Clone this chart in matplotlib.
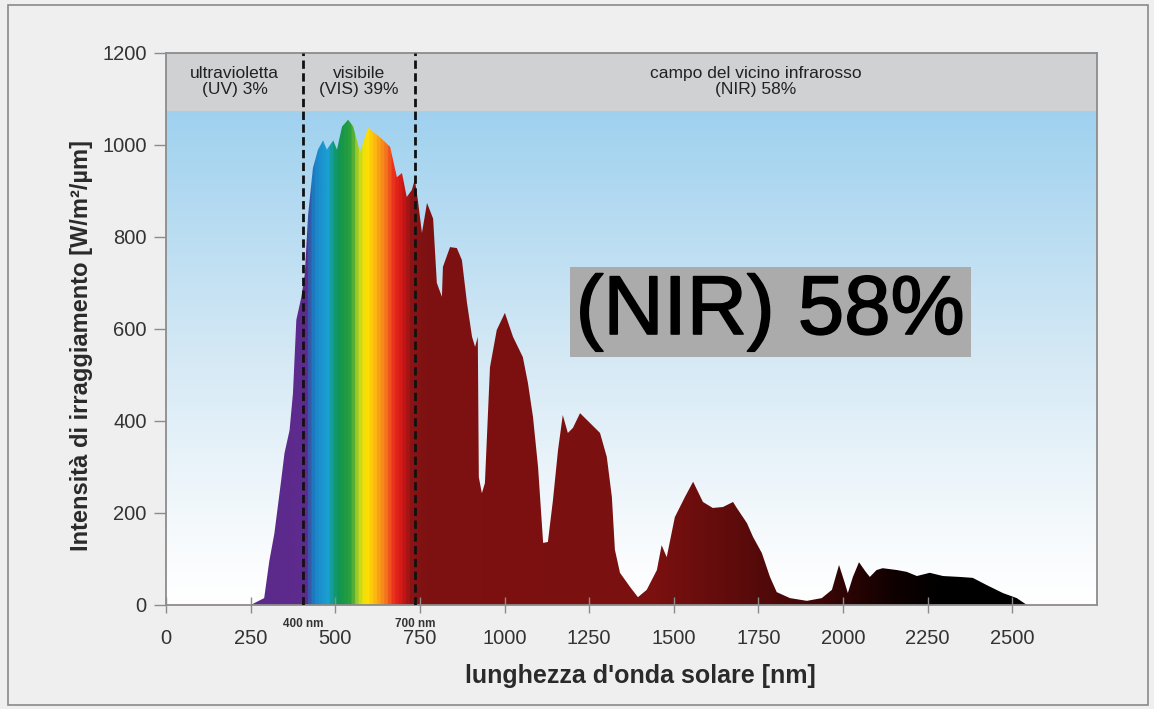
import numpy as np
import matplotlib
matplotlib.use("Agg")
import matplotlib.pyplot as plt
import matplotlib.patheffects as pe
from matplotlib.colors import LinearSegmentedColormap
from matplotlib.patches import Rectangle

# ---------------- data ----------------
wavelength = [250, 290, 305, 320, 340, 350, 365, 375, 385, 400, 410, 420, 434, 449, 464, 475,
              494, 505, 520, 538, 553, 573, 597, 632, 662, 682, 697, 711, 726, 735, 744, 756,
              771, 789, 800, 815, 818, 839, 859, 874, 889, 904, 913, 921, 924, 933, 942, 957,
              977, 1001, 1025, 1054, 1069, 1084, 1099, 1114, 1128, 1143, 1158, 1172, 1187, 1202,
              1223, 1252, 1282, 1302, 1317, 1326, 1341, 1370, 1394, 1420, 1450, 1464, 1479, 1503,
              1533, 1557, 1586, 1615, 1645, 1675, 1686, 1716, 1734, 1760, 1784, 1804, 1843, 1893,
              1937, 1967, 1988, 2005, 2014, 2029, 2047, 2067, 2079, 2099, 2117, 2159, 2188, 2218,
              2256, 2295, 2345, 2383, 2425, 2472, 2513, 2543]
irradiance = [0, 15, 95, 155, 270, 330, 380, 460, 620, 670, 720, 850, 950, 990, 1010, 990,
              1010, 990, 1040, 1055, 1040, 985, 1037, 1017, 996, 930, 939, 887, 902, 925, 880, 809,
              874, 840, 700, 670, 735, 778, 776, 750, 657, 583, 561, 583, 278, 243, 265, 517,
              598, 635, 583, 539, 483, 409, 300, 135, 137, 228, 337, 413, 374, 385,
              417, 396, 374, 322, 235, 120, 70, 40, 17, 33, 76, 130, 104, 191,
              235, 268, 224, 211, 213, 224, 211, 178, 148, 113, 61, 28, 15, 9,
              15, 33, 87, 48, 26, 61, 93, 72, 61, 76, 80, 76, 72, 63,
              70, 63, 61, 59, 43, 26, 15, 0]

band_edges = [405, 735]
band_edge_labels = ["400 nm", "700 nm"]
band_titles = ["ultravioletta\n(UV) 3%", "visibile\n(VIS) 39%", "campo del vicino infrarosso\n(NIR) 58%"]
x_ticks = [0, 250, 500, 750, 1000, 1250, 1500, 1750, 2000, 2250, 2500]
y_ticks = [0, 200, 400, 600, 800, 1000, 1200]
XMAX = 2750
YMAX = 1200
HEADER_BOTTOM = 1075

# colour stops of the spectrum (wavelength, colour)
spectrum_stops = [(0, '#5b2a8a'), (250, '#5b2a8a'), (412, '#5e2a8e'), (425, '#2070b8'),
                  (445, '#1a8ccc'), (475, '#1aa0d2'), (492, '#139a7a'), (510, '#11944c'),
                  (545, '#2fa23c'), (565, '#b8d424'), (588, '#ffe600'), (612, '#fcbc12'),
                  (645, '#f57a1e'), (672, '#e82a1c'), (695, '#d21616'), (720, '#8e1414'),
                  (760, '#7e1111'), (1450, '#7a1010'), (1700, '#5c0b0b'), (1950, '#3a0606'),
                  (2150, '#100101'), (2300, '#000000'), (2750, '#000000')]

# ---------------- figure ----------------
plt.rcParams['font.family'] = ['Liberation Sans', 'DejaVu Sans']
fig = plt.figure(figsize=(11.54, 7.09), dpi=100, facecolor='#efefef')
fig.patches.append(Rectangle((8 / 1154, 4 / 709), 1140 / 1154, 700 / 709, transform=fig.transFigure,
                             fill=False, edgecolor='#8a8a8a', linewidth=1.2))
ax = fig.add_axes([166 / 1154, 1 - 605 / 709, (1097 - 166) / 1154, (605 - 53) / 709])
ax.set_xlim(0, XMAX)
ax.set_ylim(0, YMAX)

# sky gradient
sky = LinearSegmentedColormap.from_list('sky', [(0, '#ffffff'), (0.12, '#f8fbfd'),
                                                (0.5, '#d5e9f5'), (1.0, '#9fd1ef')])
grad_v = np.linspace(0, 1, 256).reshape(-1, 1)
ax.imshow(grad_v, extent=[0, XMAX, 0, HEADER_BOTTOM], origin='lower', aspect='auto',
          cmap=sky, zorder=0)
ax.axhspan(HEADER_BOTTOM, YMAX, color='#d0d1d3', zorder=0.5, lw=0)

# spectrum
poly = ax.fill_between(wavelength, irradiance, 0, facecolor='none', edgecolor='none', zorder=1)
spec_cmap = LinearSegmentedColormap.from_list('spec', [(w / XMAX, c) for w, c in spectrum_stops])
grad_h = np.linspace(0, 1, 2048).reshape(1, -1)
im = ax.imshow(grad_h, extent=[0, XMAX, 0, YMAX], origin='lower', aspect='auto',
               cmap=spec_cmap, zorder=1, interpolation='bilinear')
im.set_clip_path(poly.get_paths()[0], transform=ax.transData)

# band separators
for xe, lab in zip(band_edges, band_edge_labels):
    ax.axvline(xe, color='#111111', linestyle=(0, (3, 1.6)), linewidth=2.0, zorder=3)
    ax.text(xe, -28, lab, ha='center', va='top', fontsize=8.5, fontweight='bold',
            color='#333333')

# header titles
centers = [(0 + band_edges[0]) / 2, (band_edges[0] + band_edges[1]) / 2,
           (band_edges[1] + XMAX) / 2]
for cx, t in zip(centers, band_titles):
    ax.text(cx, 1138, t, ha='center', va='center', fontsize=12.5, color='#222222',
            linespacing=1.15, zorder=4)

# big label
ax.text(1785, 637, "(NIR) 58%", ha='center', va='center', fontsize=60,
        color='black', zorder=5,
        path_effects=[pe.withStroke(linewidth=1.2, foreground='black')],
        bbox=dict(boxstyle='square,pad=0.07', facecolor='#ababab', edgecolor='none'))

# axes styling
for s in ax.spines.values():
    s.set_color('#8c8c8c')
    s.set_linewidth(1.3)
ax.set_xticks(x_ticks)
ax.set_yticks(y_ticks)
ax.tick_params(axis='x', direction='inout', length=12, width=1, colors='#8c8c8c',
               labelcolor='#333333', labelsize=14.5, pad=11)
ax.tick_params(axis='y', direction='out', length=9, width=1, colors='#8c8c8c',
               labelcolor='#333333', labelsize=14.5, pad=5)
ax.set_xlabel("lunghezza d'onda solare [nm]", fontsize=18, fontweight='bold',
              color='#2a2a2a')
ax.set_ylabel("Intensità di irraggiamento [W/m²/µm]", fontsize=17, fontweight='bold',
              color='#2a2a2a')
ax.xaxis.set_label_coords(0.509, -0.107)
ax.yaxis.set_label_coords(-0.078, 0.47)

fig.savefig('out.png', dpi=100, facecolor=fig.get_facecolor())
